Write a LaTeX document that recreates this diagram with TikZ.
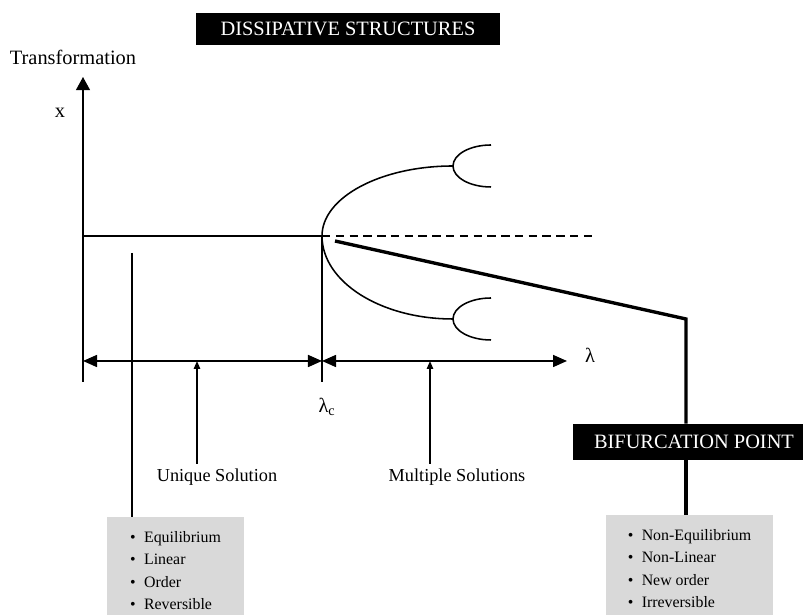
\documentclass[tikz,border=0pt]{standalone}
\usepackage{fontspec}
\setmainfont{Liberation Serif}
\usetikzlibrary{arrows.meta, positioning}
\definecolor{boxgray}{RGB}{217,217,217}
\newcommand{\bul}{\textbullet\hspace{6pt}}

\begin{document}
\begin{tikzpicture}[
        x=0.025cm, y=0.025cm,
        darkbox/.style={rectangle, fill=black, text=white, font=\fontsize{14.5}{17}\selectfont},
        graybox/.style={rectangle, fill=boxgray, align=left, anchor=north, inner ysep=10pt, font=\fontsize{11.3}{16}\selectfont},
        txt/.style={font=\fontsize{13}{15}\selectfont},
        bigtxt/.style={font=\fontsize{14.5}{17}\selectfont},
        curve/.style={line width=1.1pt},
        heavy/.style={line width=2.4pt},
        dblarrow/.style={{Triangle[length=0.35cm, width=0.3cm]}-{Triangle[length=0.35cm, width=0.3cm]}, line width=1.1pt},
        uparrow/.style={-{Triangle[length=0.2cm, width=0.16cm]}, line width=1.1pt}
    ]
        \useasboundingbox (0,0) rectangle (803,615);

        % Titles
        \node[darkbox, minimum width=7.6cm, minimum height=0.8cm] (title) at (348,586) {DISSIPATIVE STRUCTURES};
        \node[bigtxt] (trans) at (73,558) {Transformation};
        \node[bigtxt] (xlab) at (60,502) {x};

        % Axes
        \coordinate (o) at (83,233);
        \coordinate (ytop) at (83,538);
        \draw[curve, -{Triangle[length=0.33cm, width=0.35cm]}] (o) -- (ytop);
        \coordinate (stable) at (83,379);
        \coordinate (crit) at (322,379);
        \coordinate (ctick) at (322,233);
        \draw[curve] (stable) -- (crit) -- (ctick);

        % Bifurcation branches
        \draw[curve] (crit) arc[start angle=180, end angle=90, x radius=131, y radius=70] coordinate (up);
        \draw[curve] (crit) arc[start angle=180, end angle=270, x radius=131, y radius=83] coordinate (dn);
        \draw[curve] (up) arc[start angle=180, end angle=90, x radius=38, y radius=21];
        \draw[curve] (up) arc[start angle=180, end angle=270, x radius=38, y radius=21];
        \draw[curve] (dn) arc[start angle=180, end angle=90, x radius=38, y radius=21];
        \draw[curve] (dn) arc[start angle=180, end angle=270, x radius=38, y radius=21];
        \coordinate (dashend) at (593,379);
        \draw[curve, dash pattern=on 6pt off 3.8pt] (crit) -- (dashend);

        % Bifurcation point
        \node[darkbox, minimum width=6.05cm, minimum height=0.9cm] (bif) at (694,173) {BIFURCATION POINT};
        \node[graybox, minimum width=4.175cm] (right) at (689.5,100) {\bul Non-Equilibrium\\ \bul Non-Linear\\ \bul New order\\ \bul Irreversible};
        \coordinate (d0) at (335,374);
        \coordinate (d1) at (686,296);
        \draw[heavy] (d0) -- (d1) -- (bif.north -| d1);
        \draw[heavy] (bif.south -| d1) -- (right.north -| d1);

        % Equilibrium side
        \node[graybox, minimum width=3.425cm] (left) at (175.5,98) {\bul Equilibrium\\ \bul Linear\\ \bul Order\\ \bul Reversible};
        \coordinate (lft) at (132,362);
        \draw[heavy, line width=2pt] (lft) -- (left.north -| lft);

        % Lambda axis
        \coordinate (a) at (83,254);
        \coordinate (b) at (322,254);
        \coordinate (c) at (567,254);
        \draw[dblarrow] (a) -- (b);
        \draw[dblarrow] (b) -- (c);
        \node[bigtxt] (lam) at (590,260) {λ};
        \node[bigtxt] (lamc) at (327,208) {λ\textsubscript{c}};

        % Solutions
        \node[txt] (uniq) at (217,138) {Unique Solution};
        \node[txt] (mult) at (457,138) {Multiple Solutions};
        \coordinate (u) at (197,254);
        \coordinate (m) at (430,254);
        \draw[uparrow] (u |- uniq.north) -- (u);
        \draw[uparrow] (m |- mult.north) -- (m);

    \end{tikzpicture}
\end{document}
